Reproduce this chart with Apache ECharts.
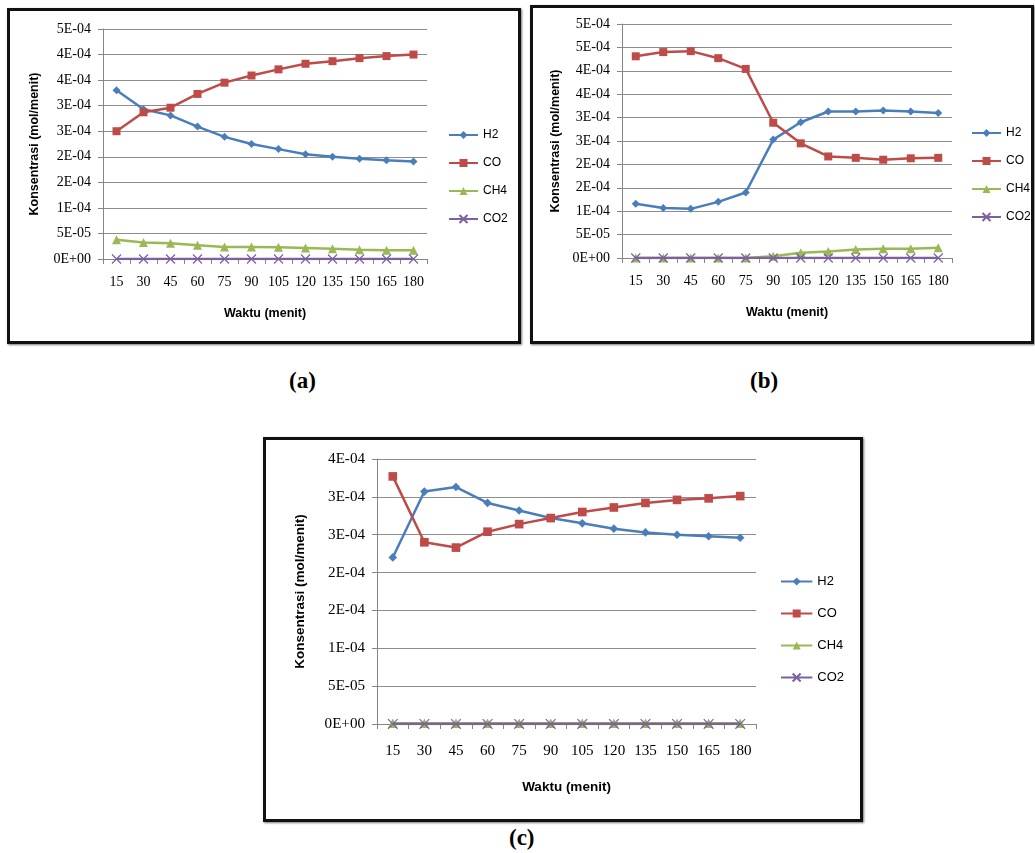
<!DOCTYPE html>
<html>
<head>
<meta charset="utf-8">
<script src="https://cdn.jsdelivr.net/npm/echarts@6/dist/echarts.min.js"></script>
<style>
  body { margin: 0; background: #fff; width: 1035px; height: 853px; position: relative; overflow: hidden; }
  .box { position: absolute; box-sizing: border-box; border: 3px solid #111; box-shadow: 1px 1px 2px #777; background: transparent; }
  .cap { position: absolute; font-family: "Liberation Serif", serif; font-weight: bold; font-size: 23px; color: #000; }
</style>
</head>
<body>
<div class="box" id="boxA" style="left:7px;top:8px;width:514px;height:336px;"></div>
<div class="box" id="boxB" style="left:530px;top:5px;width:504px;height:339px;"></div>
<div class="box" id="boxC" style="left:263px;top:437px;width:600px;height:385px;"></div>
<div class="cap" style="left:289px;top:368px;">(a)</div>
<div class="cap" style="left:750px;top:368px;">(b)</div>
<div class="cap" style="left:509px;top:825px;">(c)</div>

<script>
// waktu (menit)
var categories = ['15','30','45','60','75','90','105','120','135','150','165','180'];
// label sumbu y seperti Excel (format 0E+00), tiap 5E-05
var tickLabels = ['0E+00','5E-05','1E-04','2E-04','2E-04','3E-04','3E-04','4E-04','4E-04','5E-04','5E-04'];

// (a)
var h2A  = [3.30e-4,2.93e-4,2.81e-4,2.59e-4,2.39e-4,2.25e-4,2.15e-4,2.05e-4,2.00e-4,1.96e-4,1.93e-4,1.91e-4];
var coA  = [2.50e-4,2.87e-4,2.96e-4,3.23e-4,3.45e-4,3.59e-4,3.71e-4,3.82e-4,3.87e-4,3.93e-4,3.97e-4,4.00e-4];
var ch4A = [3.77e-5,3.25e-5,3.06e-5,2.67e-5,2.34e-5,2.34e-5,2.30e-5,2.15e-5,2.00e-5,1.82e-5,1.70e-5,1.70e-5];
var co2A = [0,0,0,0,0,0,0,0,0,0,0,0];

// (b)
var h2B  = [1.16e-4,1.07e-4,1.05e-4,1.20e-4,1.40e-4,2.53e-4,2.90e-4,3.13e-4,3.13e-4,3.15e-4,3.13e-4,3.10e-4];
var coB  = [4.31e-4,4.40e-4,4.42e-4,4.27e-4,4.04e-4,2.89e-4,2.45e-4,2.17e-4,2.14e-4,2.10e-4,2.13e-4,2.14e-4];
var ch4B = [0,0,0,0,0,3.6e-6,1.1e-5,1.4e-5,1.8e-5,2.0e-5,2.0e-5,2.2e-5];
var co2B = [0,0,0,0,0,0,0,0,0,0,0,0];

// (c)
var h2C  = [2.20e-4,3.07e-4,3.13e-4,2.92e-4,2.82e-4,2.72e-4,2.65e-4,2.58e-4,2.53e-4,2.50e-4,2.48e-4,2.46e-4];
var coC  = [3.27e-4,2.40e-4,2.33e-4,2.54e-4,2.64e-4,2.72e-4,2.80e-4,2.86e-4,2.92e-4,2.96e-4,2.98e-4,3.01e-4];
var ch4C = [1e-6,1e-6,1e-6,1e-6,1e-6,1e-6,1e-6,1e-6,1e-6,1e-6,1e-6,1e-6];
var co2C = [0,0,0,0,0,0,0,0,0,0,0,0];

var names = ['H2','CO','CH4','CO2'];
var colors = ['#4a7ebb','#be4b48','#98b954','#7d60a0'];
var cross = 'path://M0,0L10,10M10,0L0,10';

function makeChart(boxId, data, cfg) {
  var box = document.getElementById(boxId);
  var el = document.createElement('div');
  el.style.position = 'absolute';
  el.style.left = '0'; el.style.top = '0';
  el.style.width = box.clientWidth + 'px';
  el.style.height = box.clientHeight + 'px';
  box.appendChild(el);
  var chart = echarts.init(el);

  var series = names.map(function (n, i) {
    var isCross = i === 3;
    return {
      name: n,
      type: 'line',
      data: data[i],
      symbol: ['diamond','rect','triangle',cross][i],
      symbolSize: [8,8,9,9][i] * cfg.s,
      showAllSymbol: true,
      lineStyle: { color: colors[i], width: 2.5 },
      itemStyle: isCross
        ? { color: 'rgba(0,0,0,0)', borderColor: colors[i], borderWidth: 1.2 }
        : { color: colors[i], borderWidth: 0 },
      z: 2 + i
    };
  });

  var option = {
    animation: false,
    grid: { left: cfg.left, top: cfg.top, width: cfg.width, height: cfg.height },
    legend: {
      orient: 'vertical',
      left: cfg.legLeft, top: cfg.legTop,
      itemWidth: 29 * cfg.s, itemHeight: 10,
      itemGap: cfg.legGap,
      textStyle: { fontFamily: 'Liberation Sans', fontSize: 12 * cfg.s, color: '#000' },
      data: names
    },
    xAxis: {
      type: 'category',
      data: categories,
      boundaryGap: true,
      name: 'Waktu (menit)',
      nameLocation: 'middle',
      nameGap: cfg.xNameGap,
      nameTextStyle: { fontFamily: 'Liberation Sans', fontWeight: 'bold', fontSize: 12.5 * cfg.s, color: '#000' },
      axisLine: { lineStyle: { color: '#868686', width: 1 } },
      axisTick: { show: true, length: 5, lineStyle: { color: '#868686' } },
      axisLabel: { margin: cfg.xLabMargin, fontFamily: 'Liberation Serif', fontSize: 14 * cfg.s, color: '#000', interval: 0 }
    },
    yAxis: {
      type: 'value',
      min: 0,
      max: cfg.max,
      interval: 5e-5,
      name: 'Konsentrasi (mol/menit)',
      nameLocation: 'middle',
      nameRotate: 90,
      nameGap: cfg.yNameGap,
      nameTextStyle: { fontFamily: 'Liberation Sans', fontWeight: 'bold', fontSize: 12.5 * cfg.s, color: '#000' },
      axisLine: { show: true, lineStyle: { color: '#868686', width: 1 } },
      axisTick: { show: true, length: 5, lineStyle: { color: '#868686' } },
      splitLine: { lineStyle: { color: '#8c8c8c', width: 1 } },
      axisLabel: {
        margin: 12,
        fontFamily: 'Liberation Serif', fontSize: 14 * cfg.s, color: '#000',
        formatter: function (v) { return tickLabels[Math.round(v / 5e-5)]; }
      }
    },
    series: series
  };
  chart.setOption(option);
  return chart;
}

makeChart('boxA', [h2A, coA, ch4A, co2A], {
  left: 93, top: 18, width: 324, height: 230, max: 4.5e-4,
  legLeft: 433, legTop: 113, legGap: 16,
  xNameGap: 48, yNameGap: 62, xLabMargin: 16, s: 1
});
makeChart('boxB', [h2B, coB, ch4B, co2B], {
  left: 89, top: 16, width: 330, height: 234, max: 5e-4,
  legLeft: 433, legTop: 114, legGap: 16,
  xNameGap: 48, yNameGap: 60, xLabMargin: 16, s: 1
});
makeChart('boxC', [h2C, coC, ch4C, co2C], {
  left: 111, top: 19, width: 379, height: 265, max: 3.5e-4,
  legLeft: 509, legTop: 130, legGap: 19,
  xNameGap: 56, yNameGap: 70, xLabMargin: 20, s: 1.08
});
</script>
</body>
</html>
